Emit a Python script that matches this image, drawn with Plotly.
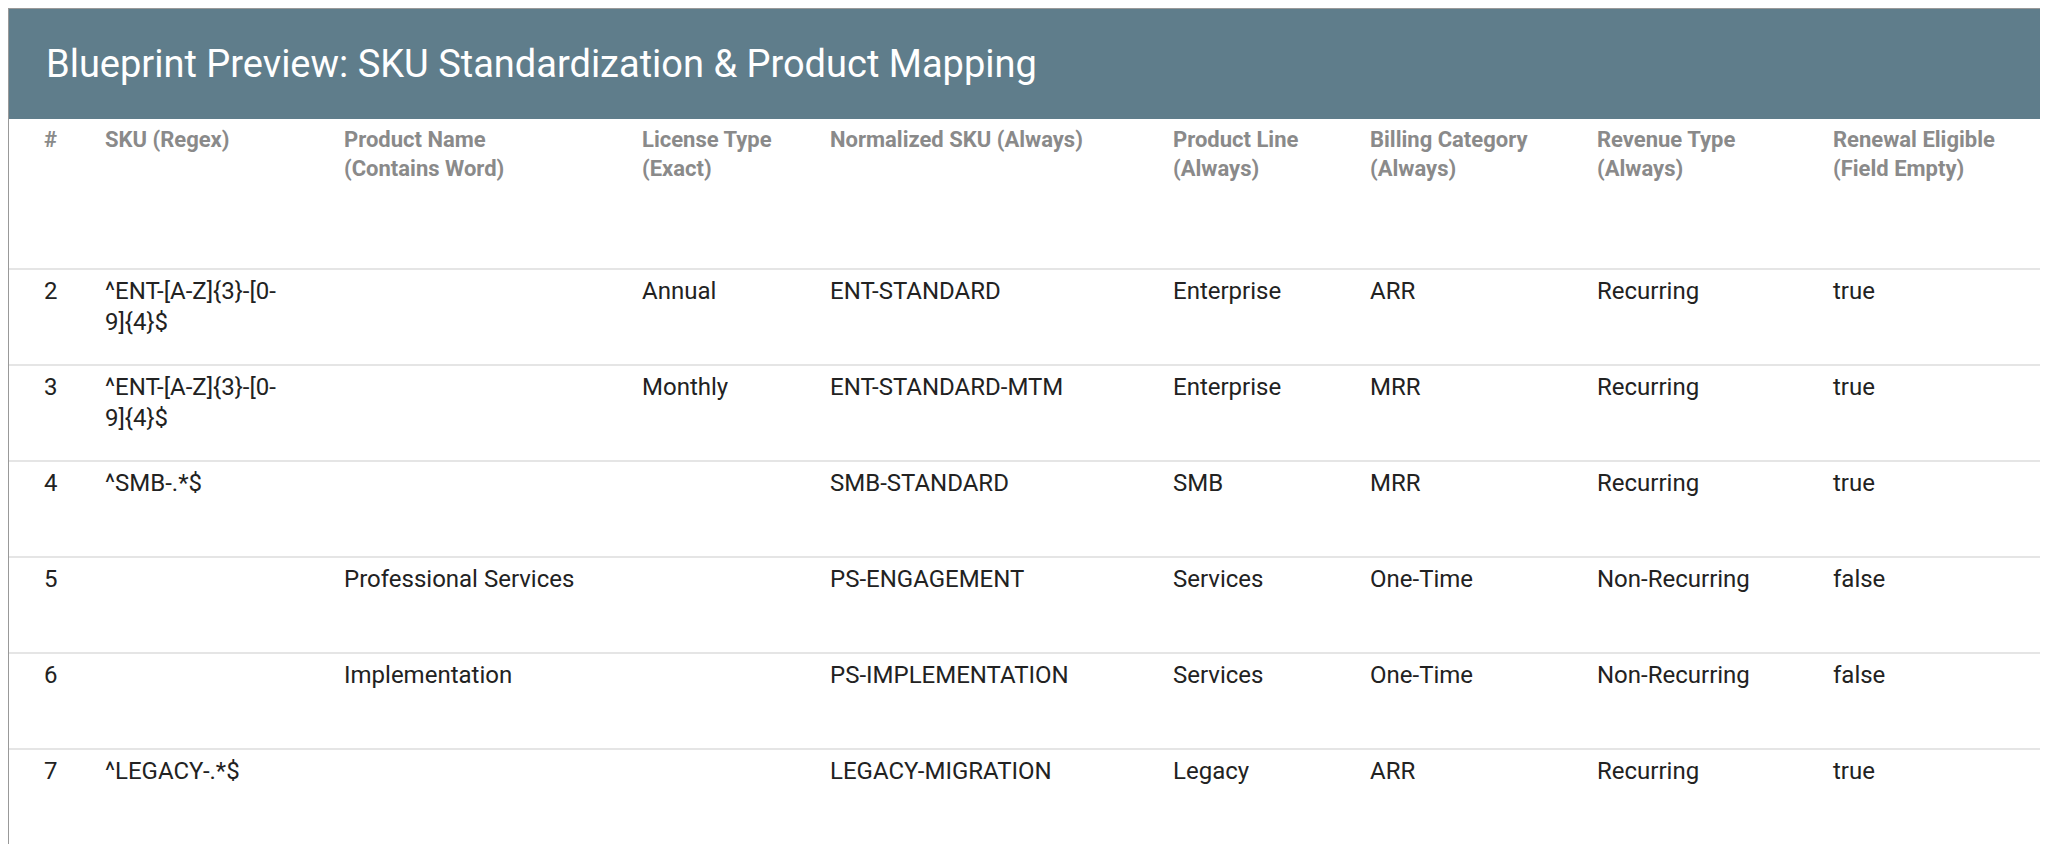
import plotly.graph_objects as go

W, H = 2048, 844
TITLE = "Blueprint Preview: SKU Standardization & Product Mapping"

headers = ["", "#", "SKU (Regex)", "Product Name<br>(Contains Word)", "License Type<br>(Exact)",
           "Normalized SKU (Always)", "Product Line<br>(Always)", "Billing Category<br>(Always)",
           "Revenue Type<br>(Always)", "Renewal Eligible<br>(Field Empty)"]
row_ids = ["2", "3", "4", "5", "6", "7"]
sku_regex = ["^ENT-[A-Z]{3}-[0-<br>9]{4}$", "^ENT-[A-Z]{3}-[0-<br>9]{4}$", "^SMB-.*$", "", "", "^LEGACY-.*$"]
product_name = ["", "", "", "Professional Services", "Implementation", ""]
license_type = ["Annual", "Monthly", "", "", "", ""]
normalized = ["ENT-STANDARD", "ENT-STANDARD-MTM", "SMB-STANDARD", "PS-ENGAGEMENT",
              "PS-IMPLEMENTATION", "LEGACY-MIGRATION"]
product_line = ["Enterprise", "Enterprise", "SMB", "Services", "Services", "Legacy"]
billing = ["ARR", "MRR", "MRR", "One-Time", "One-Time", "ARR"]
revenue = ["Recurring", "Recurring", "Recurring", "Non-Recurring", "Non-Recurring", "Recurring"]
renewal = ["true", "true", "true", "false", "false", "true"]

col_widths = [28, 61, 239, 298, 188, 343, 197, 227, 236, 231]

TOP = 111
HEAD_H = 150
ROW_H = 96
BLANK = "\u200b"


def pad(v):
    # push single-line text down so it sits roughly centred in the row
    return v if "<br>" in v else BLANK + "<br>" + v


cols = [[""] * 6, row_ids, sku_regex, product_name, license_type, normalized,
        product_line, billing, revenue, renewal]
cols = [[pad(v) if v else "" for v in c] for c in cols]

head_vals = []
for h in headers:
    if not h:
        head_vals.append("")
    elif "<br>" in h:
        head_vals.append(BLANK + "<br><b>" + h.replace("<br>", "</b><br><b>") + "</b>")
    else:
        head_vals.append(BLANK + "<br><b>" + h + "</b>")

fig = go.Figure(go.Table(
    domain=dict(x=[0, 1], y=[0, 1 - TOP / H]),
    columnwidth=col_widths,
    header=dict(values=head_vals,
                align="left", height=HEAD_H, fill_color="white",
                line=dict(width=0, color="white"),
                font=dict(family="Roboto", size=22, color="#8a8a8a")),
    cells=dict(values=cols, align="left", height=ROW_H, fill_color="white",
               line=dict(width=0, color="white"),
               font=dict(family="Roboto", size=24, color="#222222")),
))

shapes = [dict(type="rect", xref="paper", yref="paper", x0=0, x1=1, y0=1 - TOP / H, y1=1,
               fillcolor="#5f7d8b", line=dict(width=0), layer="above")]
for i in range(len(row_ids)):
    y = 1 - (TOP + HEAD_H + i * ROW_H) / H
    shapes.append(dict(type="line", xref="paper", yref="paper", x0=0, x1=1, y0=y, y1=y,
                       line=dict(color="#dddddd", width=1.5)))
shapes.append(dict(type="rect", xref="paper", yref="paper", x0=0, x1=1, y0=0, y1=1,
                   line=dict(color="#999999", width=2)))

fig.update_layout(
    width=W, height=H, margin=dict(l=0, r=0, t=0, b=0),
    paper_bgcolor="white", shapes=shapes,
    annotations=[dict(text=TITLE, xref="paper", yref="paper", x=36 / W, y=1 - TOP / 2 / H,
                      xanchor="left", yanchor="middle", showarrow=False,
                      font=dict(family="Roboto", size=38, color="white"))],
)

fig.write_html("out.html")
